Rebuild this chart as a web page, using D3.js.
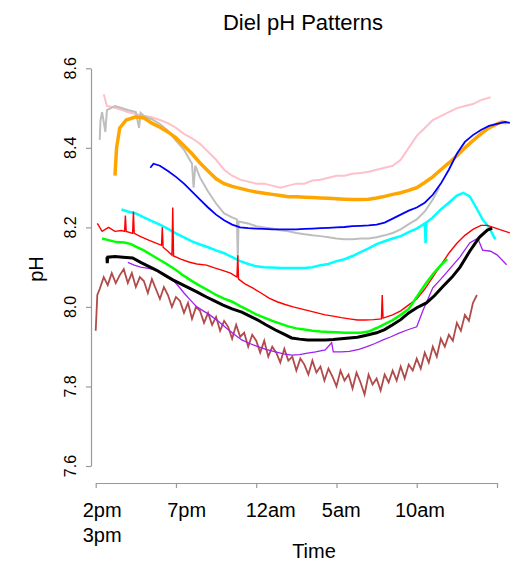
<!DOCTYPE html>
<html>
<head>
<meta charset="utf-8">
<script src="https://d3js.org/d3.v7.min.js"></script>
<style>
  body { margin: 0; background: #fff; }
  text { font-family: "Liberation Sans", Arial, sans-serif; fill: #000; }
</style>
</head>
<body>
<div id="chart"></div>
<script>
// time in hours since 2pm, pH
var pink = [[0.5,8.535],[0.7,8.505],[1.0,8.503],[1.5,8.497],[2.0,8.49],[2.5,8.485],[3.0,8.48],[3.5,8.477],[4.0,8.47],[4.5,8.462],[5.0,8.45],[5.5,8.435],[6.0,8.424],[6.5,8.41],[7.0,8.39],[7.5,8.37],[8.0,8.345],[8.5,8.33],[9.0,8.32],[9.5,8.315],[10,8.31],[10.5,8.31],[11,8.305],[11.5,8.3],[12,8.305],[12.5,8.31],[13,8.31],[13.5,8.318],[14,8.32],[14.5,8.325],[15,8.33],[15.5,8.33],[16,8.335],[16.5,8.337],[17,8.34],[17.5,8.345],[18,8.35],[18.5,8.355],[19,8.37],[19.5,8.4],[20,8.43],[20.5,8.45],[21,8.47],[21.5,8.48],[22,8.49],[22.5,8.5],[23,8.505],[23.5,8.51],[24,8.52],[24.6,8.527]];

var gray = [[0.25,8.42],[0.3,8.47],[0.4,8.49],[0.6,8.44],[0.7,8.495],[1.2,8.505],[1.6,8.5],[2.0,8.495],[2.5,8.49],[2.7,8.45],[2.8,8.488],[3.0,8.48],[3.5,8.472],[4.0,8.46],[4.5,8.443],[5.0,8.418],[5.5,8.395],[6.0,8.36],[6.1,8.3],[6.2,8.355],[6.5,8.325],[7.0,8.29],[7.5,8.26],[8.0,8.235],[8.5,8.225],[8.8,8.22],[8.85,8.12],[8.9,8.215],[9.5,8.21],[10,8.203],[10.5,8.2],[11,8.197],[11.5,8.193],[12,8.19],[12.5,8.186],[13,8.183],[13.5,8.18],[14,8.178],[14.5,8.175],[15,8.172],[15.5,8.17],[16,8.17],[16.5,8.172],[17,8.172],[17.5,8.175],[18,8.18],[18.5,8.186],[19,8.195],[19.5,8.208],[20,8.22],[20.5,8.24],[21,8.27],[21.4,8.3]];

var orange = [[1.2,8.33],[1.3,8.40],[1.5,8.45],[1.9,8.47],[2.5,8.478],[3.0,8.475],[3.5,8.462],[4.0,8.452],[4.5,8.44],[5.0,8.425],[5.5,8.405],[6.0,8.385],[6.5,8.362],[7.0,8.342],[7.5,8.322],[8.0,8.31],[8.5,8.303],[9.0,8.298],[9.5,8.293],[10,8.289],[10.5,8.286],[11,8.283],[11.5,8.28],[12,8.277],[12.5,8.277],[13,8.276],[13.5,8.275],[14,8.274],[14.5,8.273],[15,8.272],[15.5,8.271],[16,8.27],[16.5,8.27],[17,8.271],[17.5,8.274],[18,8.278],[18.5,8.283],[19,8.287],[19.5,8.293],[20,8.3],[20.5,8.313],[21,8.327],[21.5,8.345],[22,8.362],[22.5,8.38],[23,8.4],[23.5,8.418],[24,8.435],[24.5,8.45],[25,8.46],[25.3,8.465],[25.6,8.463]];

var blue = [[3.4,8.35],[3.6,8.36],[4.0,8.355],[4.5,8.342],[5.0,8.327],[5.5,8.31],[6.0,8.29],[6.5,8.27],[7.0,8.25],[7.5,8.232],[8.0,8.218],[8.5,8.207],[9.0,8.2],[9.5,8.198],[10,8.197],[10.5,8.196],[11,8.195],[11.5,8.195],[12,8.195],[12.5,8.195],[13,8.196],[13.5,8.197],[14,8.198],[14.5,8.199],[15,8.2],[15.5,8.201],[16,8.203],[16.5,8.204],[17,8.205],[17.5,8.207],[18,8.212],[18.5,8.222],[19,8.232],[19.5,8.242],[20,8.25],[20.5,8.262],[21,8.282],[21.5,8.31],[22,8.345],[22.5,8.385],[23,8.415],[23.5,8.432],[24,8.445],[24.5,8.455],[25,8.46],[25.5,8.465],[25.8,8.463]];

var cyan = [[1.6,8.245],[2.0,8.24],[2.5,8.235],[3.0,8.225],[3.5,8.216],[4.0,8.207],[4.5,8.196],[5.0,8.185],[5.5,8.175],[6.0,8.165],[6.5,8.157],[7.0,8.15],[7.5,8.142],[8.0,8.135],[8.5,8.125],[9.0,8.115],[9.5,8.108],[10,8.102],[10.5,8.1],[11,8.099],[11.5,8.098],[12,8.098],[12.5,8.098],[13,8.098],[13.5,8.1],[14,8.105],[14.5,8.108],[15,8.115],[15.5,8.12],[16,8.128],[16.5,8.138],[17,8.147],[17.5,8.158],[18,8.165],[18.5,8.172],[19,8.178],[19.5,8.188],[20,8.197],[20.5,8.21],[20.55,8.16],[20.6,8.212],[21,8.225],[21.5,8.245],[22,8.262],[22.5,8.28],[22.9,8.287],[23.3,8.278],[23.7,8.25],[24.1,8.22],[24.5,8.2],[24.9,8.17]];

var red = [[0.1,8.21],[0.4,8.19],[0.8,8.2],[1.2,8.19],[1.6,8.192],[1.8,8.19],[1.85,8.23],[1.9,8.19],[2.3,8.185],[2.35,8.24],[2.4,8.185],[2.8,8.177],[3.3,8.168],[3.8,8.16],[4.1,8.155],[4.15,8.2],[4.2,8.15],[4.5,8.14],[4.75,8.13],[4.8,8.25],[4.85,8.128],[5.3,8.12],[5.8,8.113],[6.3,8.108],[6.9,8.105],[7.4,8.098],[7.9,8.092],[8.4,8.085],[8.8,8.075],[8.85,8.13],[8.9,8.07],[9.3,8.058],[9.8,8.047],[10.3,8.035],[10.8,8.022],[11.3,8.013],[11.8,8.006],[12.3,8.0],[12.8,7.995],[13.3,7.99],[13.8,7.985],[14.3,7.98],[14.8,7.977],[15.3,7.973],[15.8,7.97],[16.3,7.967],[16.8,7.967],[17.3,7.968],[17.8,7.97],[17.85,8.03],[17.9,7.972],[18.5,7.98],[19.0,7.99],[19.5,8.005],[20.0,8.02],[20.5,8.045],[21.0,8.075],[21.5,8.105],[22.0,8.135],[22.5,8.16],[23.0,8.18],[23.5,8.195],[24.0,8.205],[24.4,8.205],[25.8,8.186]];

var green = [[0.4,8.172],[0.8,8.168],[1.3,8.163],[1.8,8.162],[2.2,8.158],[2.6,8.15],[3.0,8.142],[3.5,8.13],[4.0,8.118],[4.5,8.106],[5.0,8.093],[5.5,8.078],[6.0,8.065],[6.5,8.053],[7.0,8.042],[7.5,8.03],[8.0,8.021],[8.5,8.013],[9.0,8.002],[9.5,7.992],[10,7.981],[10.5,7.973],[11,7.965],[11.5,7.958],[12,7.951],[12.5,7.946],[13,7.943],[13.5,7.94],[14,7.938],[14.5,7.937],[15,7.936],[15.5,7.935],[16,7.935],[16.5,7.935],[17,7.938],[17.5,7.947],[18,7.957],[18.5,7.967],[19,7.98],[19.5,7.995],[20,8.025],[20.5,8.055],[21,8.082],[21.5,8.105],[21.9,8.12]];

var purple = [[2.0,8.112],[2.4,8.105],[2.8,8.1],[3.3,8.097],[3.8,8.092],[4.3,8.08],[4.8,8.068],[5.2,8.05],[5.5,8.035],[5.9,8.017],[6.3,8.0],[6.7,7.99],[7.1,7.98],[7.6,7.965],[8.1,7.948],[8.6,7.932],[9.1,7.917],[9.6,7.908],[10.1,7.9],[10.6,7.893],[11.2,7.887],[11.7,7.882],[12.2,7.879],[12.7,7.88],[13.2,7.884],[13.7,7.887],[14.3,7.892],[14.7,7.91],[14.8,7.887],[15.3,7.887],[15.8,7.888],[16.4,7.893],[16.9,7.9],[17.4,7.908],[17.9,7.917],[18.4,7.925],[18.9,7.934],[19.4,7.942],[20.0,7.95],[20.4,7.992],[20.7,8.02],[21.0,8.048],[21.5,8.07],[22.0,8.093],[22.7,8.126],[23.3,8.161],[23.8,8.173],[24.1,8.143],[24.6,8.14],[25.0,8.131],[25.6,8.106]];

var black = [[0.7,8.125],[0.72,8.11],[0.75,8.125],[1.2,8.127],[1.7,8.125],[2.3,8.123],[2.8,8.112],[3.3,8.102],[3.8,8.092],[4.3,8.08],[4.8,8.068],[5.3,8.058],[5.8,8.048],[6.3,8.038],[6.9,8.025],[7.4,8.015],[7.9,8.005],[8.5,7.995],[9.1,7.987],[9.6,7.977],[10.1,7.967],[10.6,7.955],[11.2,7.942],[11.7,7.932],[12.2,7.922],[12.7,7.919],[13.2,7.917],[13.7,7.917],[14.3,7.917],[14.8,7.918],[15.3,7.92],[15.8,7.922],[16.3,7.924],[16.8,7.928],[17.5,7.935],[18.0,7.943],[18.5,7.955],[19.0,7.968],[19.5,7.985],[20.0,7.998],[20.6,8.01],[21.1,8.028],[21.6,8.05],[22.2,8.075],[22.7,8.1],[23.3,8.14],[23.9,8.175],[24.4,8.193],[24.7,8.198]];

var brown = [[0.0,7.94],[0.1,8.03],[0.25,8.045],[0.5,8.075],[0.75,8.055],[1.0,8.085],[1.25,8.06],[1.5,8.08],[1.75,8.095],[2.0,8.06],[2.25,8.085],[2.5,8.05],[2.75,8.075],[3.0,8.065],[3.25,8.035],[3.5,8.07],[3.75,8.045],[4.0,8.02],[4.25,8.05],[4.5,8.03],[4.75,8.0],[5.0,8.025],[5.25,8.015],[5.5,7.985],[5.75,8.01],[6.0,7.97],[6.25,8.0],[6.5,7.99],[6.75,7.96],[7.0,7.985],[7.25,7.955],[7.5,7.975],[7.75,7.94],[8.0,7.965],[8.25,7.95],[8.5,7.92],[8.75,7.955],[9.0,7.925],[9.25,7.935],[9.5,7.9],[9.75,7.93],[10.0,7.915],[10.25,7.885],[10.5,7.915],[10.75,7.875],[11.0,7.9],[11.25,7.885],[11.5,7.86],[11.75,7.895],[12.0,7.865],[12.25,7.875],[12.5,7.84],[12.75,7.87],[13.0,7.855],[13.25,7.83],[13.5,7.865],[13.75,7.835],[14.0,7.85],[14.25,7.815],[14.5,7.845],[14.75,7.825],[15.0,7.8],[15.25,7.84],[15.5,7.815],[15.75,7.83],[16.0,7.795],[16.25,7.835],[16.5,7.81],[16.75,7.78],[17.0,7.83],[17.25,7.805],[17.5,7.82],[17.75,7.79],[18.0,7.83],[18.25,7.81],[18.5,7.84],[18.75,7.815],[19.0,7.85],[19.25,7.82],[19.5,7.855],[19.75,7.84],[20.0,7.87],[20.25,7.845],[20.5,7.885],[20.75,7.86],[21.0,7.9],[21.25,7.875],[21.5,7.92],[21.75,7.9],[22.0,7.93],[22.25,7.915],[22.5,7.96],[22.75,7.94],[23.0,7.98],[23.25,7.965],[23.5,8.01],[23.75,8.03]];

var yTicks = [7.6, 7.8, 8.0, 8.2, 8.4, 8.6];
var xTicks = [0, 5, 10, 15, 20, 25];
var xLabels = ["2pm", "7pm", "12am", "5am", "10am"];
var xLabelPos = [0.4, 5.67, 10.9, 15.3, 20.2];

var series = [
  {data: pink,   color: "#ffc0cb", w: 2},
  {data: gray,   color: "#bebebe", w: 2},
  {data: orange, color: "#ffa500", w: 3.5},
  {data: blue,   color: "#0000ff", w: 1.8},
  {data: cyan,   color: "#00ffff", w: 2.5},
  {data: brown,  color: "#a52a2a", w: 1.8, op: 0.85},
  {data: red,    color: "#ff0000", w: 1.4},
  {data: green,  color: "#00ff00", w: 2.5},
  {data: purple, color: "#a020f0", w: 1.3},
  {data: black,  color: "#000000", w: 3}
];

var W = 513, H = 562;
var svg = d3.select("#chart").append("svg")
    .attr("width", W)
    .attr("height", H);

var x = d3.scaleLinear().domain([0, 25]).range([95.7, 497]);
var y = d3.scaleLinear().domain([7.6, 8.6]).range([466, 68.3]);

// lines
var line = d3.line()
    .x(function(d) { return x(d[0]); })
    .y(function(d) { return y(d[1]); });

svg.selectAll("path.series")
    .data(series)
  .enter().append("path")
    .attr("class", "series")
    .attr("d", function(d) { return line(d.data); })
    .attr("fill", "none")
    .attr("stroke", function(d) { return d.color; })
    .attr("stroke-width", function(d) { return d.w; })
    .attr("stroke-opacity", function(d) { return d.op || 1; });

// axes (R style, grey)
svg.append("g")
    .attr("transform", "translate(91,0)")
    .call(d3.axisLeft(y).tickValues(yTicks).tickFormat("").tickSize(5).tickSizeOuter(0));
svg.append("g")
    .attr("transform", "translate(0,483)")
    .call(d3.axisBottom(x).tickValues(xTicks).tickFormat("").tickSize(5).tickSizeOuter(0));
svg.selectAll(".domain, .tick line").attr("stroke", "#999").attr("stroke-width", 1.2);

svg.selectAll("text.ylab")
    .data(yTicks)
  .enter().append("text")
    .attr("class", "ylab")
    .attr("transform", function(d) { return "translate(76," + y(d) + ") rotate(-90)"; })
    .attr("text-anchor", "middle")
    .style("font-size", "16px")
    .text(function(d) { return d.toFixed(1); });

svg.selectAll("text.xlab")
    .data(xLabels)
  .enter().append("text")
    .attr("class", "xlab")
    .attr("x", function(d, i) { return x(xLabelPos[i]); })
    .attr("y", 517)
    .attr("text-anchor", "middle")
    .style("font-size", "20px")
    .text(function(d) { return d; });

svg.append("text")
    .attr("x", x(xLabelPos[0]))
    .attr("y", 542)
    .attr("text-anchor", "middle")
    .style("font-size", "20px")
    .text("3pm");

// titles
svg.append("text")
    .attr("x", 314)
    .attr("y", 558)
    .attr("text-anchor", "middle")
    .style("font-size", "20px")
    .text("Time");

svg.append("text")
    .attr("transform", "translate(43,269) rotate(-90)")
    .attr("text-anchor", "middle")
    .style("font-size", "20px")
    .text("pH");

svg.append("text")
    .attr("x", 303)
    .attr("y", 30)
    .attr("text-anchor", "middle")
    .style("font-size", "22px")
    .text("Diel pH Patterns");
</script>
</body>
</html>
